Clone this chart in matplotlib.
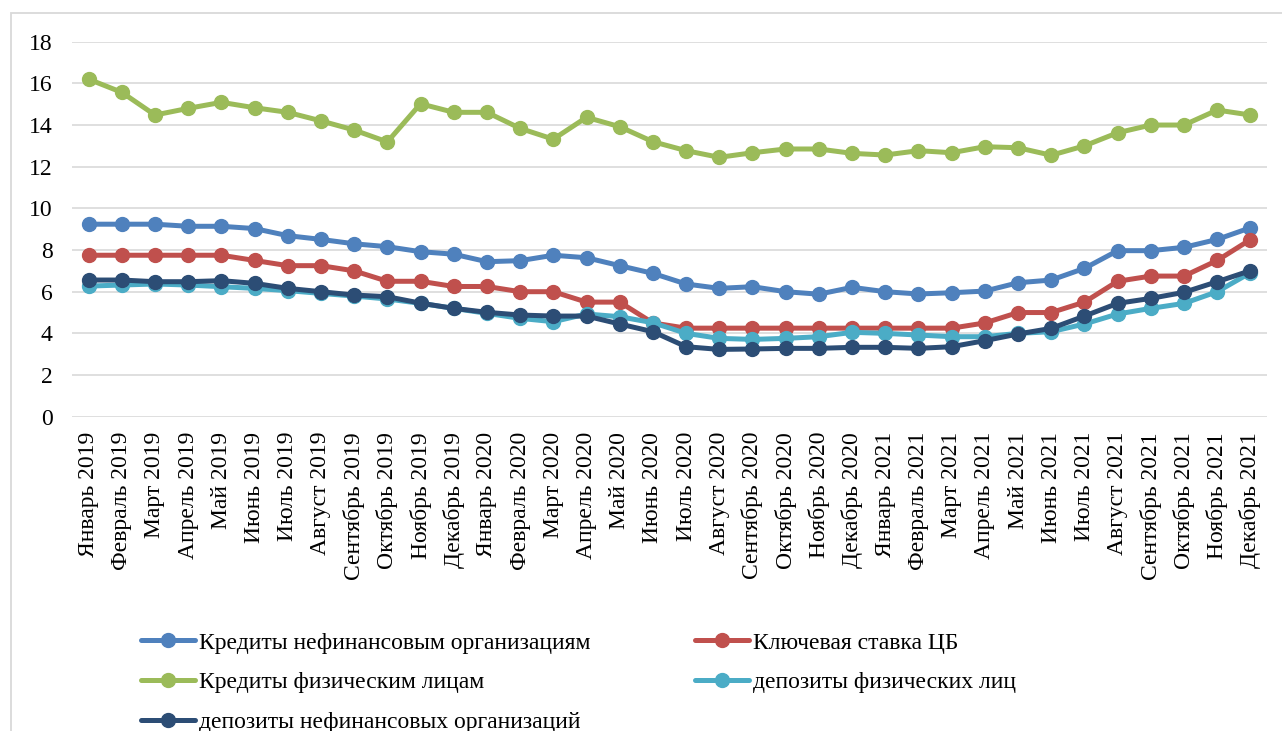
import numpy as np
import matplotlib
matplotlib.use('Agg')
import matplotlib.pyplot as plt
from matplotlib.patches import Rectangle

plt.rcParams['font.family'] = ['Liberation Serif', 'DejaVu Serif']

months = ['Январь', 'Февраль', 'Март', 'Апрель', 'Май', 'Июнь', 'Июль', 'Август',
          'Сентябрь', 'Октябрь', 'Ноябрь', 'Декабрь']
years = [2019, 2020, 2021]
labels = ['%s %d' % (m, y) for y in years for m in months]

# credits to non-financial organisations
credit_org = [9.24, 9.24, 9.24, 9.14, 9.14, 9.03, 8.69, 8.51, 8.30, 8.16, 7.92, 7.80,
              7.44, 7.49, 7.75, 7.63, 7.25, 6.88, 6.37, 6.16, 6.24, 6.00, 5.88, 6.21,
              6.00, 5.89, 5.95, 6.03, 6.43, 6.56, 7.12, 7.97, 7.97, 8.13, 8.51, 9.07]
# key rate of the central bank
key_rate = [7.75, 7.75, 7.75, 7.75, 7.75, 7.50, 7.25, 7.25, 7.00, 6.50, 6.50, 6.25,
            6.25, 6.00, 6.00, 5.50, 5.50, 4.50, 4.25, 4.25, 4.25, 4.25, 4.25, 4.25,
            4.25, 4.25, 4.25, 4.50, 5.00, 5.00, 5.50, 6.50, 6.75, 6.75, 7.50, 8.50]
# credits to individuals
credit_ind = [16.20, 15.57, 14.48, 14.80, 15.09, 14.83, 14.61, 14.20, 13.76, 13.19, 15.02, 14.61,
              14.61, 13.84, 13.32, 14.37, 13.92, 13.20, 12.77, 12.45, 12.67, 12.85, 12.85, 12.64,
              12.56, 12.77, 12.67, 12.96, 12.91, 12.55, 13.00, 13.63, 14.00, 14.00, 14.72, 14.48]
# deposits of individuals
dep_ind = [6.27, 6.32, 6.37, 6.32, 6.24, 6.16, 6.05, 5.92, 5.79, 5.65, 5.44, 5.20,
           4.96, 4.72, 4.56, 4.93, 4.80, 4.51, 4.00, 3.76, 3.71, 3.76, 3.84, 4.05,
           4.00, 3.92, 3.84, 3.84, 4.00, 4.08, 4.45, 4.93, 5.20, 5.44, 6.00, 6.91]
# deposits of non-financial organisations
dep_org = [6.56, 6.56, 6.48, 6.48, 6.53, 6.40, 6.16, 6.00, 5.84, 5.76, 5.45, 5.20,
           5.01, 4.88, 4.83, 4.83, 4.45, 4.08, 3.36, 3.23, 3.25, 3.28, 3.28, 3.33,
           3.33, 3.28, 3.36, 3.65, 3.97, 4.24, 4.83, 5.44, 5.68, 5.97, 6.48, 7.01]

series = [
    (credit_org, 'Кредиты нефинансовым организациям', '#4F81BD'),
    (key_rate, 'Ключевая ставка ЦБ', '#C0504D'),
    (credit_ind, 'Кредиты физическим лицам', '#9BBB59'),
    (dep_ind, 'депозиты физических лиц', '#4BACC6'),
    (dep_org, 'депозиты нефинансовых организаций', '#2C4D75'),
]

W, H = 1282, 731
fs = 17
fig = plt.figure(figsize=(W / 100., H / 100.), dpi=100)
ax = fig.add_axes([72. / W, 1 - 416.7 / H, (1267. - 72.) / W, (416.7 - 41.7) / H])

x = np.arange(len(labels))
handles = []
for vals, name, col in series:
    ln, = ax.plot(x, vals, '-o', color=col, lw=3.6, ms=10, label=name,
                  solid_capstyle='round', clip_on=False)
    handles.append(ln)

ax.set_xlim(-0.5, len(labels) - 0.5)
ax.set_ylim(0, 18)
ax.set_yticks(np.arange(0, 19, 2))
ax.set_xticks(x)
ax.set_xticklabels(labels, rotation=90, fontsize=fs)
ax.tick_params(axis='y', labelsize=fs, length=0, pad=14)
ax.tick_params(axis='x', length=0, pad=11)
ax.grid(axis='y', color='#D9D9D9', lw=1.2)
ax.set_axisbelow(True)
for s in ax.spines.values():
    s.set_visible(False)

# outer chart border
fig.add_artist(Rectangle((11. / W, -0.1), 1.2, 1.1 - 12.7 / H, transform=fig.transFigure,
                         fill=False, ec='#D9D9D9', lw=1.3))

# legend in two columns, placed separately
leg_kw = dict(frameon=False, fontsize=fs, handlelength=2.3, handletextpad=0.15,
              labelspacing=0.78, borderpad=0, borderaxespad=0, loc='upper left')
leg1 = fig.legend([handles[0], handles[2], handles[4]],
                  [series[0][1], series[2][1], series[4][1]],
                  bbox_to_anchor=(141. / W, 1 - 632. / H), **leg_kw)
leg2 = fig.legend([handles[1], handles[3]], [series[1][1], series[3][1]],
                  bbox_to_anchor=(695. / W, 1 - 632. / H), **leg_kw)

fig.savefig('out.png', dpi=100)
plt.close()
